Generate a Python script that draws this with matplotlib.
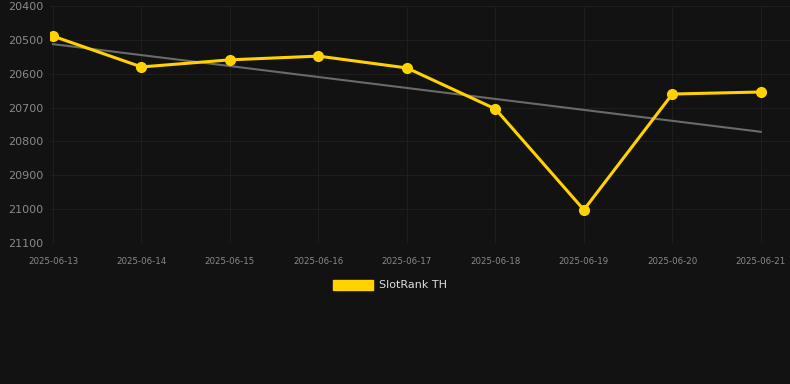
import numpy as np
import matplotlib
matplotlib.use("Agg")
import matplotlib.pyplot as plt
from matplotlib.patches import Patch

dates = ["2025-06-13", "2025-06-14", "2025-06-15", "2025-06-16", "2025-06-17",
         "2025-06-18", "2025-06-19", "2025-06-20", "2025-06-21"]
rank = [20489, 20580, 20559, 20548, 20583, 20704, 21002, 20660, 20654]
yticks = [20400, 20500, 20600, 20700, 20800, 20900, 21000, 21100]

bg = "#121212"
gold = "#FFD200"

fig = plt.figure(figsize=(7.9, 3.84), dpi=100, facecolor=bg)
ax = fig.add_axes([50 / 790, 1 - 243 / 384, 740 / 790, 237 / 384])
ax.set_facecolor(bg)

x = np.arange(len(dates))
# trend line (least squares fit of the series)
m, c = np.polyfit(x, rank, 1)
ax.plot(x, m * x + c, color="#6a6a6a", lw=1.5, zorder=2)
ax.plot(x, rank, color=gold, lw=2.2, marker="o", ms=7, zorder=3)

ax.set_xlim(-0.034, 8.33)
ax.set_ylim(21100, 20400)
ax.set_yticks(yticks)
ax.set_xticks(x)
ax.set_xticklabels(dates)
ax.tick_params(axis="y", colors="#8a8a8a", labelsize=8, length=0, pad=5)
ax.tick_params(axis="x", colors="#8a8a8a", labelsize=6.2, length=0, pad=10)
ax.grid(True, color="#1e1e1e", lw=0.8)
ax.axhline(21100, color="#2a2a2a", lw=0.8, zorder=1)
for s in ax.spines.values():
    s.set_visible(False)

handle = Patch(facecolor=gold, edgecolor=gold)
fig.legend([handle], ["SlotRank TH"], loc="center", bbox_to_anchor=(390 / 790, 1 - 285 / 384),
           frameon=False, fontsize=8, labelcolor="#dddddd", handlelength=3.6, handleheight=1.0,
           handletextpad=0.6)

fig.savefig("out.png", dpi=100, facecolor=bg)
